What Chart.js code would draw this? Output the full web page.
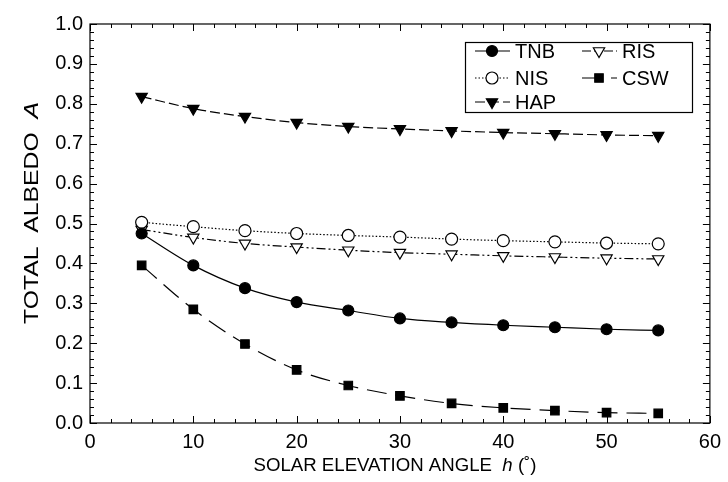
<!DOCTYPE html>
<html>
<head>
<meta charset="utf-8">
<script src="https://cdn.jsdelivr.net/npm/chart.js@4"></script>
<style>
  body { margin: 0; background: #fff; }
  #wrap { width: 728px; height: 482px; }
</style>
</head>
<body>
<div id="wrap"><canvas id="albedo"></canvas></div>
<script>
const angles = [5, 10, 15, 20, 25, 30, 35, 40, 45, 50, 55];
const tnb = [0.475, 0.395, 0.338, 0.303, 0.282, 0.262, 0.252, 0.245, 0.240, 0.235, 0.232];
const nis = [0.503, 0.492, 0.482, 0.475, 0.470, 0.466, 0.461, 0.457, 0.454, 0.451, 0.449];
const ris = [0.485, 0.465, 0.450, 0.441, 0.433, 0.427, 0.423, 0.419, 0.416, 0.413, 0.411];
const hap = [0.818, 0.788, 0.768, 0.753, 0.743, 0.737, 0.732, 0.728, 0.725, 0.722, 0.720];
const csw = [0.395, 0.285, 0.198, 0.133, 0.094, 0.068, 0.049, 0.038, 0.031, 0.026, 0.024];

const FONT = '"Liberation Sans", Arial, sans-serif';

function pts(ys) {
    return angles.map((x, i) => ({x: x, y: ys[i]}));
}

function series(label, ys, style, fill, dash, radius, rot) {
    return {
        label: label,
        data: pts(ys),
        borderColor: '#000',
        borderWidth: 1.2,
        borderDash: dash,
        pointStyle: style,
        pointRadius: radius,
        pointRotation: rot || 0,
        pointBackgroundColor: fill,
        pointBorderColor: '#000',
        pointBorderWidth: 1.2,
        cubicInterpolationMode: 'monotone',
        fill: false
    };
}

const datasets = [
    series('TNB', tnb, 'circle', '#000', [], 5.5),
    series('NIS', nis, 'circle', '#fff', [1.5, 2], 6),
    series('HAP', hap, 'triangle', '#000', [10, 4], 6.5, 180),
    series('RIS', ris, 'triangle', '#fff', [9, 3, 2, 3, 2, 3], 6.5, 180),
    series('CSW', csw, 'rect', '#000', [20, 9], 6)
];

// draws "plain + italic + plain" parts stretched to a given length, centred at 0,0
function mixedText(c, parts, size, length) {
    let total = 0;
    const widths = parts.map(p => {
        c.font = (p[1] ? 'italic ' : '') + size + 'px ' + FONT;
        const w = c.measureText(p[0]).width;
        total += w;
        return w;
    });
    const sx = length / total;
    c.save();
    c.scale(sx, 1);
    let x = -total / 2;
    parts.forEach((p, i) => {
        c.font = (p[1] ? 'italic ' : '') + size + 'px ' + FONT;
        c.fillText(p[0], x, 0);
        x += widths[i];
    });
    c.restore();
}

// frame with inward ticks on all four sides
const frame = {
    id: 'frame',
    afterDraw(chart) {
        const c = chart.ctx, a = chart.chartArea;
        const xs = chart.scales.x, ys = chart.scales.y;
        c.save();
        c.strokeStyle = '#000';
        c.lineWidth = 1.2;
        c.strokeRect(a.left, a.top, a.right - a.left, a.bottom - a.top);
        c.beginPath();
        for (let v = 0; v <= 60; v += 2) {
            const px = Math.round(xs.getPixelForValue(v)) + 0.5;
            const len = v % 10 === 0 ? 7 : 4;
            c.moveTo(px, a.bottom); c.lineTo(px, a.bottom - len);
            c.moveTo(px, a.top); c.lineTo(px, a.top + len);
        }
        for (let i = 0; i <= 50; i++) {
            const py = Math.round(ys.getPixelForValue(i * 0.02)) + 0.5;
            const len = i % 5 === 0 ? 7 : 4;
            c.moveTo(a.left, py); c.lineTo(a.left + len, py);
            c.moveTo(a.right, py); c.lineTo(a.right - len, py);
        }
        c.lineWidth = 1;
        c.stroke();

        // axis titles
        c.fillStyle = '#000';
        c.textBaseline = 'middle';
        c.textAlign = 'left';
        c.save();
        c.translate(395, 466);
        mixedText(c, [['SOLAR ELEVATION ANGLE  ', false], ['h', true], [' (\u02DA)', false]], 19, 283);
        c.restore();

        c.save();
        c.translate(32, 213);
        c.rotate(-Math.PI / 2);
        mixedText(c, [['TOTAL  ALBEDO  ', false], ['A', true]], 20, 222);
        c.restore();
        c.restore();
    }
};

// boxed two-column legend inside the plot
const legendBox = {
    id: 'legendBox',
    afterDraw(chart) {
        const c = chart.ctx;
        const box = {x: 465.5, y: 42.5, w: 227, h: 70};
        const slots = [
            {i: 0, x: 475, y: 51}, {i: 1, x: 475, y: 78}, {i: 2, x: 475, y: 102},
            {i: 3, x: 582, y: 51}, {i: 4, x: 582, y: 78}
        ];
        c.save();
        c.fillStyle = '#fff';
        c.fillRect(box.x, box.y, box.w, box.h);
        c.strokeStyle = '#000';
        c.lineWidth = 1.2;
        c.strokeRect(box.x, box.y, box.w, box.h);
        slots.forEach(s => {
            const ds = chart.data.datasets[s.i];
            c.beginPath();
            c.setLineDash(ds.borderDash);
            c.lineWidth = 1.2;
            c.moveTo(s.x, s.y);
            c.lineTo(s.x + 35, s.y);
            c.stroke();
            c.setLineDash([]);
            c.fillStyle = ds.pointBackgroundColor;
            c.strokeStyle = '#000';
            Chart.helpers.drawPoint(c, {
                pointStyle: ds.pointStyle,
                radius: ds.pointRadius,
                rotation: ds.pointRotation,
                borderWidth: 1.2
            }, s.x + 17, s.y);
            c.fillStyle = '#000';
            c.font = '20px ' + FONT;
            c.textAlign = 'left';
            c.textBaseline = 'middle';
            c.fillText(ds.label, s.x + 40, s.y + 1);
        });
        c.restore();
    }
};

const config = {
    type: 'line',
    data: {datasets: datasets},
    options: {
        responsive: true,
        maintainAspectRatio: false,
        animation: false,
        layout: {padding: {top: 24, right: 15, left: 0, bottom: 0}},
        plugins: {legend: {display: false}, tooltip: {enabled: false}},
        scales: {
            x: {
                type: 'linear',
                min: 0, max: 60,
                grid: {display: false, drawTicks: false},
                border: {display: false},
                ticks: {stepSize: 10, padding: 7, color: '#000', font: {family: FONT, size: 20}},
                afterFit(s) { s.height = 59; }
            },
            y: {
                min: 0, max: 1,
                grid: {display: false, drawTicks: false},
                border: {display: false},
                ticks: {
                    stepSize: 0.1, padding: 7, color: '#000',
                    font: {family: FONT, size: 20},
                    callback: v => v.toFixed(1)
                },
                afterFit(s) { s.width = 90; }
            }
        }
    },
    plugins: [frame, legendBox]
};

new Chart(document.getElementById('albedo'), config);
</script>
</body>
</html>
